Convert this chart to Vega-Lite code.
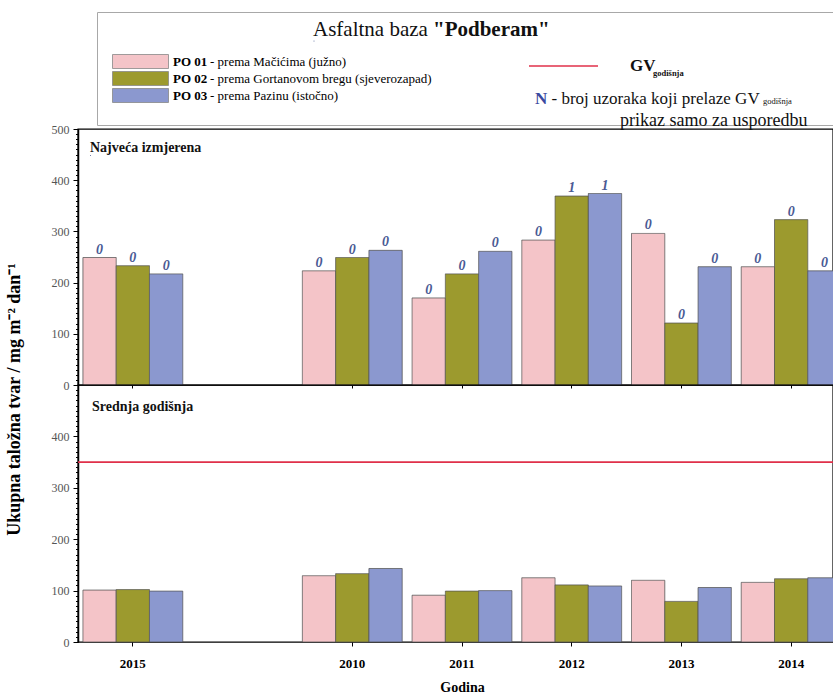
{
 "$schema": "https://vega.github.io/schema/vega-lite/v6.json",
 "background": "white",
 "padding": {"left": 4, "top": 10, "right": 0, "bottom": 0},
 "bounds": "flush",
 "spacing": 0,
 "datasets": {
  "obs": [
   {"year": "2015", "series": "PO 01", "opis": "prema Mačićima (južno)", "max": 249, "mean": 101, "n": 0},
   {"year": "2015", "series": "PO 02", "opis": "prema Gortanovom bregu (sjeverozapad)", "max": 233, "mean": 102, "n": 0},
   {"year": "2015", "series": "PO 03", "opis": "prema Pazinu (istočno)", "max": 217, "mean": 99, "n": 0},
   {"year": "2010", "series": "PO 01", "opis": "prema Mačićima (južno)", "max": 223, "mean": 129, "n": 0},
   {"year": "2010", "series": "PO 02", "opis": "prema Gortanovom bregu (sjeverozapad)", "max": 249, "mean": 133, "n": 0},
   {"year": "2010", "series": "PO 03", "opis": "prema Pazinu (istočno)", "max": 263, "mean": 143, "n": 0},
   {"year": "2011", "series": "PO 01", "opis": "prema Mačićima (južno)", "max": 170, "mean": 91, "n": 0},
   {"year": "2011", "series": "PO 02", "opis": "prema Gortanovom bregu (sjeverozapad)", "max": 217, "mean": 99, "n": 0},
   {"year": "2011", "series": "PO 03", "opis": "prema Pazinu (istočno)", "max": 261, "mean": 100, "n": 0},
   {"year": "2012", "series": "PO 01", "opis": "prema Mačićima (južno)", "max": 283, "mean": 125, "n": 0},
   {"year": "2012", "series": "PO 02", "opis": "prema Gortanovom bregu (sjeverozapad)", "max": 369, "mean": 111, "n": 1},
   {"year": "2012", "series": "PO 03", "opis": "prema Pazinu (istočno)", "max": 374, "mean": 109, "n": 1},
   {"year": "2013", "series": "PO 01", "opis": "prema Mačićima (južno)", "max": 296, "mean": 120, "n": 0},
   {"year": "2013", "series": "PO 02", "opis": "prema Gortanovom bregu (sjeverozapad)", "max": 121, "mean": 79, "n": 0},
   {"year": "2013", "series": "PO 03", "opis": "prema Pazinu (istočno)", "max": 231, "mean": 106, "n": 0},
   {"year": "2014", "series": "PO 01", "opis": "prema Mačićima (južno)", "max": 231, "mean": 116, "n": 0},
   {"year": "2014", "series": "PO 02", "opis": "prema Gortanovom bregu (sjeverozapad)", "max": 323, "mean": 123, "n": 0},
   {"year": "2014", "series": "PO 03", "opis": "prema Pazinu (istočno)", "max": 223, "mean": 125, "n": 0}
  ],
  "gv": [{"gv": 350}]
 },
 "config": {
  "font": "Liberation Serif",
  "view": {"stroke": "#000", "strokeWidth": 1.4},
  "legend": {"padding": 0, "orient": "none", "titleLimit": 1000, "labelLimit": 1000, "titleFont": "Liberation Serif", "labelFont": "Liberation Serif", "titlePadding": 0, "symbolFillColor": "transparent", "symbolStrokeColor": "transparent", "symbolStrokeWidth": 0},
  "axis": {"labelFont": "Liberation Serif", "titleFont": "Liberation Serif", "grid": false, "labelOverlap": false}
 },
 "resolve": {"scale": {"fill": "independent", "opacity": "independent", "strokeWidth": "independent", "strokeDash": "independent", "size": "independent", "stroke": "independent"}},
 "vconcat": [
  {
   "width": 755,
   "height": 256,
   "data": {"name": "obs"},
   "resolve": {"scale": {"opacity": "independent", "strokeWidth": "independent"}, "axis": {"y": "independent"}},
   "layer": [
    {
     "mark": {"type": "bar", "clip": true, "stroke": "#555"},
     "encoding": {
      "x": {"field": "year", "type": "nominal",
       "scale": {"domain": ["2015", " ", "2010", "2011", "2012", "2013", "2014"], "range": [0, 768], "paddingInner": 0.09, "paddingOuter": 0.045},
       "axis": {"values": ["2015", "2010", "2011", "2012", "2013", "2014"], "labels": false, "title": null, "domain": false, "tickSize": 3, "tickColor": "#000"}},
      "xOffset": {"field": "series", "type": "nominal", "scale": {"domain": ["PO 01", "PO 02", "PO 03"], "paddingInner": 0, "paddingOuter": 0}},
      "y": {"field": "max", "type": "quantitative",
       "scale": {"domain": [0, 500], "nice": false},
       "axis": {"orient": "left", "values": [0, 100, 200, 300, 400, 500], "tickSize": 5,
        "labelFontSize": 12, "labelColor": "#555", "labelPadding": 4,
        "domainColor": "#000", "domainWidth": 1.5, "tickColor": "#000",
        "title": "Ukupna taložna tvar / mg m⁻² dan⁻¹", "titleFontSize": 18, "titleFontWeight": "bold", "titleColor": "#000", "titleX": -55, "titleY": 270}},
      "fill": {"field": "series", "type": "nominal",
       "scale": {"domain": ["PO 01", "PO 02", "PO 03"], "range": ["#f4c4c8", "#9c9a2e", "#8b98cf"]},
       "legend": {"title": null, "legendX": 34, "legendY": -75, "symbolType": "M-1,-1H7V1H-1Z", "symbolSize": 196, "symbolFillColor": null, "symbolStrokeColor": "#888", "symbolStrokeWidth": 0.8, "labelFontWeight": "bold", "labelFontSize": 13, "labelColor": "#000", "labelOffset": 46, "rowPadding": -2}},
      "opacity": {"field": "opis", "type": "ordinal",
       "scale": {"domain": ["prema Mačićima (južno)", "prema Gortanovom bregu (sjeverozapad)", "prema Pazinu (istočno)"], "range": [1, 1]},
       "legend": {"title": null, "legendX": 117, "legendY": -75, "symbolType": "M-1,-1H7V1H-1Z", "symbolSize": 196, "symbolStrokeWidth": 0.8, "symbolOpacity": 0, "labelOffset": 0, "labelFontSize": 13, "labelColor": "#000", "rowPadding": -2, "labelExpr": "'- ' + datum.label"}},
      "strokeWidth": {"datum": "t2", "type": "ordinal", "scale": {"range": [0.8, 0.8]},
       "legend": {"title": "\"Podberam\"", "titleFontSize": 21, "titleFontWeight": "bold", "titleColor": "#111", "legendX": 355, "legendY": -110, "labelOpacity": 0, "symbolSize": 1, "labelFontSize": 1}},
      "strokeDash": {"datum": "frame", "type": "nominal", "scale": {"range": [[1, 0]]},
       "legend": {"title": null, "legendX": 19, "legendY": -117, "symbolSize": 12769, "labelOpacity": 0, "labelFontSize": 1, "labelOffset": 622, "strokeColor": "#a8a8a8"}}
     }
    },
    {
     "mark": {"type": "text", "fontStyle": "italic", "fontWeight": "bold", "color": "#4a5a94", "baseline": "alphabetic", "dy": -4, "clip": true},
     "encoding": {
      "x": {"field": "year", "type": "nominal"},
      "xOffset": {"field": "series", "type": "nominal"},
      "y": {"field": "max", "type": "quantitative",
       "axis": {"orient": "left", "values": [0,10,20,30,40,50,60,70,80,90,100,110,120,130,140,150,160,170,180,190,200,210,220,230,240,250,260,270,280,290,300,310,320,330,340,350,360,370,380,390,400,410,420,430,440,450,460,470,480,490,500],
        "labels": false, "domain": false, "tickSize": 2.5, "tickColor": "#000", "title": null}},
      "text": {"field": "n", "type": "quantitative"},
      "size": {"datum": "t4", "type": "ordinal", "scale": {"range": [14, 14]},
       "legend": {"title": "N", "titleFontSize": 17, "titleFontWeight": "bold", "titleColor": "#3a4aa0", "legendX": 457, "legendY": -38, "labelOpacity": 0, "symbolOpacity": 0, "symbolSize": 1, "labelFontSize": 1}},
      "opacity": {"datum": "t3", "type": "ordinal", "scale": {"range": [1, 1]},
       "legend": {"title": "Najveća izmjerena", "titleFontSize": 14, "titleFontWeight": "bold", "titleColor": "#111", "legendX": 12, "legendY": 12, "labelOpacity": 0, "symbolSize": 1, "labelFontSize": 1}},
      "strokeWidth": {"datum": "t1", "type": "ordinal", "scale": {"range": [1, 1]},
       "legend": {"title": "Asfaltna baza", "titleFontSize": 21, "titleFontWeight": "normal", "titleColor": "#111", "legendX": 235, "legendY": -110, "labelOpacity": 0, "symbolSize": 1, "labelFontSize": 1}}
     }
    }
   ]
  },
  {
   "width": 755,
   "height": 257,
   "resolve": {"scale": {"opacity": "independent", "strokeDash": "independent"}, "axis": {"y": "independent"}},
   "layer": [
    {
     "data": {"name": "obs"},
     "mark": {"type": "bar", "clip": true, "stroke": "#555", "strokeWidth": 0.8},
     "encoding": {
      "x": {"field": "year", "type": "nominal",
       "scale": {"domain": ["2015", " ", "2010", "2011", "2012", "2013", "2014"], "range": [0, 768], "paddingInner": 0.09, "paddingOuter": 0.045},
       "axis": {"values": ["2015", "2010", "2011", "2012", "2013", "2014"], "labelAngle": 0, "labelFontWeight": "bold", "labelFontSize": 13, "labelColor": "#000", "labelPadding": 11, "domain": false, "tickSize": 4, "tickColor": "#000", "title": "Godina", "titleFontWeight": "bold", "titleFontSize": 14, "titleColor": "#000", "titlePadding": 10}},
      "xOffset": {"field": "series", "type": "nominal", "scale": {"domain": ["PO 01", "PO 02", "PO 03"], "paddingInner": 0, "paddingOuter": 0}},
      "y": {"field": "mean", "type": "quantitative",
       "scale": {"domain": [0, 500], "nice": false},
       "axis": {"orient": "left", "values": [0, 100, 200, 300, 400], "tickSize": 5,
        "labelFontSize": 12, "labelColor": "#555", "labelPadding": 4,
        "domainColor": "#000", "domainWidth": 1.5, "tickColor": "#000", "title": null}},
      "fill": {"field": "series", "type": "nominal",
       "scale": {"domain": ["PO 01", "PO 02", "PO 03"], "range": ["#f4c4c8", "#9c9a2e", "#8b98cf"]}, "legend": null},
      "strokeDash": {"datum": "s1", "type": "nominal", "scale": {"range": [[1, 0]]},
       "legend": {"title": "Srednja godišnja", "titleFontSize": 14, "titleFontWeight": "bold", "titleColor": "#111", "legendX": 14, "legendY": 15, "labelOpacity": 0, "symbolSize": 1, "labelFontSize": 1}},
      "opacity": {"datum": "s2", "type": "ordinal", "scale": {"range": [1, 1]},
       "legend": {"title": "prikaz samo za usporedbu", "titleFontSize": 18, "titleFontWeight": "normal", "titleColor": "#111", "legendX": 542, "legendY": -273, "labelOpacity": 0, "symbolSize": 1, "labelFontSize": 1}}
     }
    },
    {
     "data": {"name": "gv"},
     "mark": {"type": "rule"},
     "encoding": {
      "y": {"field": "gv", "type": "quantitative",
       "axis": {"orient": "left", "values": [0,10,20,30,40,50,60,70,80,90,100,110,120,130,140,150,160,170,180,190,200,210,220,230,240,250,260,270,280,290,300,310,320,330,340,350,360,370,380,390,400,410,420,430,440,450,460,470,480,490],
        "labels": false, "domain": false, "tickSize": 2.5, "tickColor": "#000", "title": null}},
      "stroke": {"datum": "GV", "type": "nominal", "scale": {"range": ["#e0304a"]},
       "legend": {"title": null, "legendX": 450, "legendY": -354.5, "symbolType": "stroke", "symbolSize": 4761, "symbolStrokeColor": null, "symbolStrokeWidth": 1.6, "labelFontSize": 17, "labelFontWeight": "bold", "labelColor": "#111", "labelOffset": 31}},
      "strokeWidth": {"datum": "w", "type": "ordinal", "scale": {"range": [1.6, 1.6]},
       "legend": {"title": "godišnja", "titleFontSize": 8.5, "titleFontWeight": "bold", "titleColor": "#111", "legendX": 575, "legendY": -316, "labelOpacity": 0, "symbolSize": 1, "labelFontSize": 1}},
      "strokeDash": {"datum": "d", "type": "nominal", "scale": {"range": [[1, 0]]},
       "legend": {"title": "godišnja", "titleFontSize": 8.5, "titleFontWeight": "normal", "titleColor": "#111", "legendX": 685, "legendY": -288, "labelOpacity": 0, "symbolSize": 1, "labelFontSize": 1}},
      "opacity": {"datum": "o", "type": "ordinal", "scale": {"range": [1, 1]},
       "legend": {"title": "- broj uzoraka koji prelaze GV", "titleFontSize": 17, "titleFontWeight": "normal", "titleColor": "#111", "legendX": 473.5, "legendY": -294.4, "labelOpacity": 0, "symbolSize": 1, "labelFontSize": 1}}
     }
    }
   ]
  }
 ]
}
